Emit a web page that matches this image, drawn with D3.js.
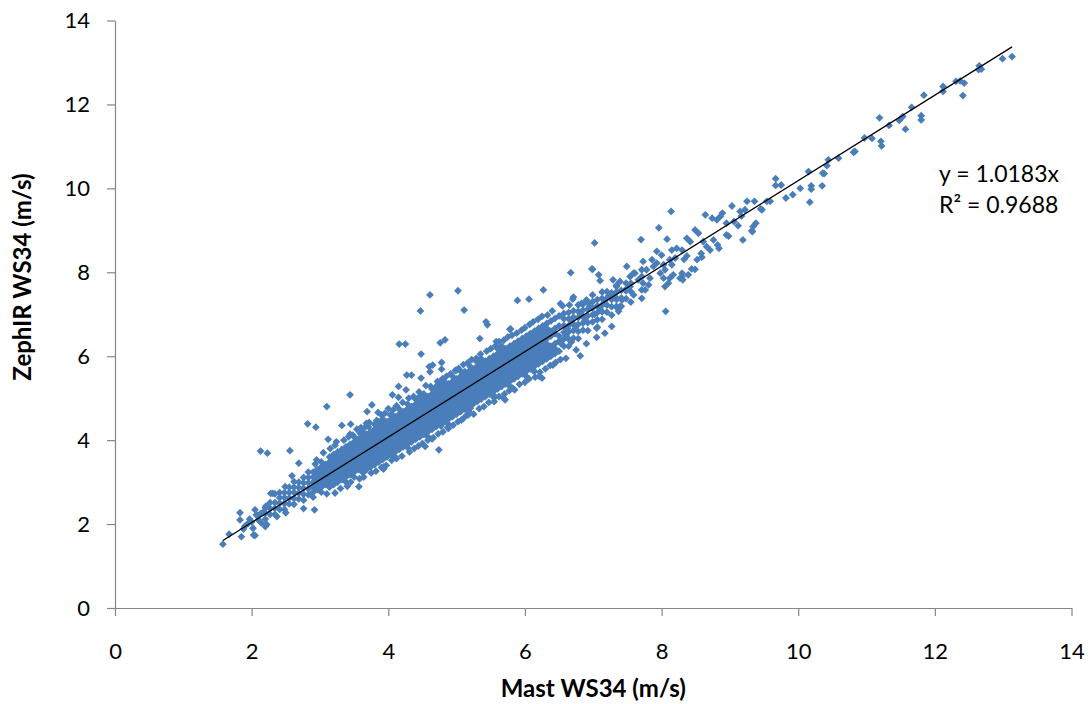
<!DOCTYPE html>
<html>
<head>
<meta charset="utf-8">
<script src="https://cdn.jsdelivr.net/npm/d3@7"></script>
<style>
  body { margin: 0; background: #fff; }
  text { font-family: Lato, "Open Sans", "DejaVu Sans", sans-serif; }
</style>
</head>
<body>
<svg id="chart" width="1088" height="704"></svg>
<script>
// Axis ticks and labels
const xTicks = [0, 2, 4, 6, 8, 10, 12, 14];
const yTicks = [0, 2, 4, 6, 8, 10, 12, 14];
const xTitle = "Mast WS34 (m/s)";
const yTitle = "ZephIR WS34 (m/s)";

// Linear fit through the origin
const slope = 1.0183;
const rSquared = 0.9688;

// Light-wind samples [mast, zephir]
const lowWindPoints = [
  [1.58,1.52],[1.67,1.76],[1.83,2.27],[1.83,2.10],[1.85,1.70],[1.88,1.88],[1.90,1.95],[1.95,2.02],
  [1.97,2.12],[2.00,2.05],[2.02,1.90],[2.03,1.74],[2.05,1.73],[2.05,2.34],[2.07,2.22],[2.08,2.20],
  [2.10,2.10],[2.13,2.25],[2.14,2.03],[2.18,2.30],[2.20,1.94],[2.21,2.43],[2.22,1.99],[2.13,3.74],
  [2.23,3.69],[2.28,2.73],[2.31,2.73],[2.34,2.72],[2.37,2.18],[2.49,2.89],[2.50,2.27],[2.56,3.75],
  [2.59,3.15],[2.69,3.45],[2.76,2.37],[2.82,4.39],[2.92,2.34],[2.93,3.43],[2.94,4.31],[2.95,3.53]
];

// Bulk of the record: each mast reading with the ZephIR readings logged alongside it
const coreColumns = [
  [2.20,[2.12,2.26,2.39]],
  [2.27,[2.23,2.37,2.51]],
  [2.34,[2.23,2.38,2.51]],
  [2.41,[2.35,2.50,2.63,2.75]],
  [2.48,[2.35,2.49,2.63,2.75]],
  [2.55,[2.48,2.62,2.75,2.88]],
  [2.62,[2.47,2.61,2.75,2.88,3.01]],
  [2.69,[2.60,2.74,2.87,3.00]],
  [2.76,[2.57,2.71,2.85,2.98,3.11]],
  [2.83,[2.70,2.84,2.98,3.11,3.24]],
  [2.90,[2.64,2.76,2.88,3.00,3.12,3.24]],
  [2.96,[2.82,2.94,3.06,3.18,3.30]],
  [3.02,[2.76,2.88,3.00,3.12,3.24,3.36,3.48]],
  [3.08,[2.94,3.06,3.18,3.30,3.42]],
  [3.14,[2.88,3.00,3.12,3.24,3.36,3.48,3.60]],
  [3.20,[2.94,3.06,3.18,3.30,3.42,3.54,3.66]],
  [3.26,[3.00,3.12,3.24,3.36,3.48,3.60,3.72]],
  [3.32,[3.06,3.18,3.30,3.42,3.54,3.66,3.78]],
  [3.38,[3.00,3.12,3.24,3.36,3.48,3.60,3.72,3.84]],
  [3.44,[3.18,3.30,3.42,3.54,3.66,3.78,3.90]],
  [3.50,[3.12,3.24,3.36,3.48,3.60,3.72,3.84,3.96,4.08]],
  [3.56,[3.30,3.42,3.54,3.66,3.78,3.90,4.02]],
  [3.62,[3.24,3.36,3.48,3.60,3.72,3.84,3.96,4.08,4.20]],
  [3.68,[3.30,3.42,3.54,3.66,3.78,3.90,4.02,4.14]],
  [3.74,[3.36,3.48,3.60,3.72,3.84,3.96,4.08,4.20]],
  [3.80,[3.42,3.54,3.66,3.78,3.90,4.02,4.14,4.26,4.38]],
  [3.86,[3.48,3.60,3.72,3.84,3.96,4.08,4.20,4.32,4.44]],
  [3.92,[3.54,3.66,3.78,3.90,4.02,4.14,4.26,4.38,4.50]],
  [3.98,[3.60,3.72,3.84,3.96,4.08,4.20,4.32,4.44]],
  [4.04,[3.66,3.78,3.90,4.02,4.14,4.26,4.38,4.50,4.62]],
  [4.10,[3.60,3.72,3.84,3.96,4.08,4.20,4.32,4.44,4.56]],
  [4.16,[3.78,3.90,4.02,4.14,4.26,4.38,4.50,4.62,4.74]],
  [4.22,[3.84,3.96,4.08,4.20,4.32,4.44,4.56,4.68]],
  [4.28,[3.90,4.02,4.14,4.26,4.38,4.50,4.62,4.74,4.86]],
  [4.34,[3.96,4.08,4.20,4.32,4.44,4.56,4.68,4.80]],
  [4.40,[4.02,4.14,4.26,4.38,4.50,4.62,4.74,4.86,4.98]],
  [4.46,[4.08,4.20,4.32,4.44,4.56,4.68,4.80,4.92,5.04]],
  [4.52,[4.14,4.26,4.38,4.50,4.62,4.74,4.86,4.98,5.10]],
  [4.58,[4.08,4.20,4.32,4.44,4.56,4.68,4.80,4.92,5.04]],
  [4.64,[4.26,4.38,4.50,4.62,4.74,4.86,4.98,5.10,5.22]],
  [4.70,[4.32,4.44,4.56,4.68,4.80,4.92,5.04,5.16,5.28]],
  [4.76,[4.38,4.50,4.62,4.74,4.86,4.98,5.10,5.22,5.34]],
  [4.82,[4.44,4.56,4.68,4.80,4.92,5.04,5.16,5.28,5.40]],
  [4.88,[4.38,4.50,4.62,4.74,4.86,4.98,5.10,5.22,5.34]],
  [4.94,[4.56,4.68,4.80,4.92,5.04,5.16,5.28,5.40,5.52]],
  [5.00,[4.62,4.74,4.86,4.98,5.10,5.22,5.34,5.46]],
  [5.06,[4.68,4.80,4.92,5.04,5.16,5.28,5.40,5.52,5.64]],
  [5.12,[4.74,4.86,4.98,5.10,5.22,5.34,5.46,5.58]],
  [5.18,[4.68,4.80,4.92,5.04,5.16,5.28,5.40,5.52,5.64]],
  [5.24,[4.86,4.98,5.10,5.22,5.34,5.46,5.58,5.70]],
  [5.30,[4.92,5.04,5.16,5.28,5.40,5.52,5.64,5.76,5.88]],
  [5.36,[4.98,5.10,5.22,5.34,5.46,5.58,5.70,5.82,5.94]],
  [5.42,[5.04,5.16,5.28,5.40,5.52,5.64,5.76,5.88]],
  [5.48,[5.10,5.22,5.34,5.46,5.58,5.70,5.82,5.94]],
  [5.54,[5.04,5.16,5.28,5.40,5.52,5.64,5.76,5.88,6.00]],
  [5.60,[5.22,5.34,5.46,5.58,5.70,5.82,5.94,6.06,6.18]],
  [5.66,[5.28,5.40,5.52,5.64,5.76,5.88,6.00,6.12,6.24]],
  [5.72,[5.34,5.46,5.58,5.70,5.82,5.94,6.06,6.18]],
  [5.78,[5.28,5.40,5.52,5.64,5.76,5.88,6.00,6.12,6.24]],
  [5.84,[5.46,5.58,5.70,5.82,5.94,6.06,6.18,6.30]],
  [5.90,[5.52,5.64,5.76,5.88,6.00,6.12,6.24,6.36]],
  [5.96,[5.58,5.70,5.82,5.94,6.06,6.18,6.30,6.42]],
  [6.02,[5.52,5.64,5.76,5.88,6.00,6.12,6.24,6.36,6.48]],
  [6.08,[5.70,5.82,5.94,6.06,6.18,6.30,6.42,6.54]],
  [6.14,[5.64,5.76,5.88,6.00,6.12,6.24,6.36,6.48,6.60]],
  [6.20,[5.82,5.94,6.06,6.18,6.30,6.42,6.54,6.66]],
  [6.26,[5.88,6.00,6.12,6.24,6.36,6.48,6.60,6.72]],
  [6.32,[5.94,6.06,6.18,6.30,6.42,6.54,6.66,6.78]],
  [6.38,[6.00,6.12,6.24,6.48,6.60,6.84]],
  [6.44,[6.06,6.18,6.30,6.54,6.66,6.90]],
  [6.50,[6.12,6.36,6.48,6.72,6.96]],
  [6.57,[6.24,6.41,6.57,6.73,6.89,7.02]],
  [6.64,[6.24,6.41,6.58,6.73,6.89,7.04]],
  [6.71,[6.43,6.61,6.77,6.93,7.08]],
  [6.78,[6.42,6.59,6.76,6.92,7.07,7.22]],
  [6.85,[6.62,6.79,6.94,7.10,7.24]],
  [6.92,[6.61,6.80,6.96,7.12,7.27]],
  [6.99,[6.82,6.99,7.15,7.30,7.46]],
  [7.06,[6.69,6.87,7.04,7.20,7.35]],
  [7.13,[6.88,7.06,7.22,7.38,7.53]],
  [7.20,[7.05,7.22,7.38,7.54]],
  [7.27,[6.98,7.18,7.35,7.50]],
  [7.34,[7.17,7.35,7.53,7.69]],
  [7.41,[7.19,7.39,7.57]],
  [7.48,[7.37,7.56,7.74]],
  [7.55,[7.29,7.54,7.74]]
];

// Readings scattered around the main band [mast, zephir]
const scatterPoints = [
  [3.10,4.80],[3.12,4.02],[3.24,3.96],[3.32,4.35],[3.39,3.17],[3.44,5.08],[3.44,4.14],[3.45,4.38],
  [3.54,4.26],[3.57,2.89],[3.59,4.16],[3.65,3.25],[3.68,3.33],[3.68,4.40],[3.69,4.68],[3.71,4.32],
  [3.76,4.84],[3.85,4.66],[3.93,3.31],[3.93,3.36],[3.95,4.64],[4.03,4.60],[4.06,5.08],[4.15,5.02],
  [4.15,5.28],[4.16,6.29],[4.25,6.29],[4.26,5.20],[4.27,5.55],[4.29,3.81],[4.34,5.55],[4.47,7.08],
  [4.48,6.05],[4.48,5.48],[4.54,3.85],[4.60,5.75],[4.61,7.46],[4.61,5.63],[4.64,4.03],[4.65,5.79],
  [4.74,3.77],[4.76,6.32],[4.77,4.34],[4.78,5.85],[4.78,5.69],[4.83,6.39],[4.88,4.28],[5.00,5.67],
  [5.02,7.56],[5.07,4.48],[5.11,7.10],[5.12,5.63],[5.15,4.60],[5.20,4.76],[5.20,5.75],[5.27,5.91],
  [5.34,6.42],[5.43,6.82],[5.45,6.75],[5.55,5.01],[5.56,5.04],[5.58,6.35],[5.69,5.00],[5.71,4.96],
  [5.78,6.64],[5.79,6.65],[5.82,5.24],[5.89,7.33],[6.06,7.36],[6.12,5.66],[6.21,5.52],[6.25,5.48],
  [6.27,5.93],[6.27,7.58],[6.41,5.79],[6.52,7.25],[6.65,7.22],[6.67,7.99],[6.71,7.41],[6.81,6.01],
  [6.83,7.26],[6.90,7.34],[6.98,8.08],[6.99,8.07],[7.02,8.70],[7.05,6.67],[7.08,7.94],[7.10,7.80],
  [7.17,6.55],[7.27,6.71],[7.34,7.19],[7.37,7.07],[7.49,8.14],[7.59,7.98],
  [6.53,6.30],[6.60,6.50],[6.62,6.66],[6.68,6.85],[6.68,6.34],[6.74,6.70],[6.82,7.00],[6.88,6.86],
  [6.95,7.18],[7.02,7.00],[7.10,7.12],[7.16,7.28],[7.23,7.45],
  // upper fringe of the band
  [3.05,3.70],[3.22,3.88],[3.35,4.00],[3.48,4.12],[3.60,4.30],[3.72,4.42],[3.90,4.60],[4.00,4.75],
  [4.12,4.82],[4.30,5.00],[4.45,5.15],[4.55,5.30],[4.72,5.40],[4.85,5.52],[4.98,5.66],[5.10,5.80],
  [5.22,5.92],[5.35,6.05],[5.50,6.18],[5.62,6.35],[5.75,6.46],[5.88,6.55],[6.00,6.68],[6.12,6.82],
  [6.25,6.95],[6.40,7.08],[6.55,7.20],[6.70,7.36],
  [3.15,3.80],[3.42,4.08],[3.66,4.31],[3.83,4.47],[4.07,4.72],[4.21,4.90],[4.37,5.04],[4.62,5.28],
  [4.79,5.46],[4.91,5.58],[5.03,5.71],[5.16,5.84],[5.29,5.95],[5.44,6.12],[5.57,6.25],[5.69,6.38],
  [5.81,6.50],[5.95,6.62],[6.07,6.76],[6.19,6.88],[6.33,6.98],
  // lower fringe of the band
  [3.10,2.72],[3.30,2.85],[3.45,3.00],[3.58,3.08],[3.75,3.22],[3.90,3.35],[4.05,3.52],[4.20,3.62],
  [4.38,3.80],[4.50,3.92],[4.66,4.06],[4.80,4.20],[4.95,4.36],[5.10,4.52],[5.25,4.62],[5.40,4.80],
  [5.55,4.92],[5.70,5.10],[5.85,5.20],[6.00,5.38],[6.15,5.50],[6.30,5.70],[6.45,5.85],[6.60,5.95],
  [6.75,6.15],[6.90,6.30],[7.05,6.45],
  [3.22,2.74],[3.40,2.90],[3.64,3.12],[3.82,3.26],[3.97,3.40],[4.12,3.56],[4.31,3.72],[4.44,3.86],
  [4.58,4.00],[4.73,4.15],[4.87,4.30],[5.02,4.44],[5.17,4.60],[5.33,4.75],[5.47,4.90],[5.62,5.04],
  [5.77,5.18],[5.92,5.33],[6.06,5.46],[6.22,5.62],[6.37,5.78],[6.52,5.92]
];

// Moderate winds, 7 to 9.5 m/s [mast, zephir]
const moderateWindPoints = [
  [7.27,7.50],[7.29,7.82],[7.32,7.42],[7.34,7.66],[7.39,7.78],[7.39,7.18],[7.42,7.34],[7.47,7.58],
  [7.54,7.66],[7.54,7.90],[7.59,7.46],[7.61,7.98],[7.66,7.82],[7.70,8.78],[7.71,7.90],[7.71,7.58],
  [7.71,7.38],[7.71,8.06],[7.73,8.26],[7.73,7.74],[7.76,7.58],[7.78,8.06],[7.81,7.70],[7.83,7.86],
  [7.86,8.30],[7.88,8.14],[7.93,8.22],[7.93,8.50],[7.96,9.06],[7.98,7.98],[8.00,8.41],[8.03,8.18],
  [8.03,7.86],[8.05,8.06],[8.05,7.66],[8.06,7.07],[8.08,8.79],[8.10,7.74],[8.12,8.30],[8.12,7.86],
  [8.14,9.45],[8.15,8.53],[8.15,8.18],[8.17,7.94],[8.20,8.34],[8.22,8.57],[8.27,7.86],[8.30,8.53],
  [8.30,7.98],[8.30,7.90],[8.31,7.82],[8.33,8.31],[8.37,8.39],[8.37,8.81],[8.39,7.94],[8.42,8.73],
  [8.44,8.08],[8.49,8.07],[8.49,9.01],[8.52,8.30],[8.54,8.93],[8.58,8.45],[8.59,8.36],[8.61,8.73],
  [8.64,9.37],[8.66,8.61],[8.71,8.53],[8.74,9.29],[8.76,8.77],[8.81,9.25],[8.82,8.65],[8.84,8.57],
  [8.86,9.33],[8.89,9.41],[8.95,9.17],[8.95,8.89],[8.98,8.86],[9.03,9.58],[9.06,9.21],[9.12,9.11],
  [9.15,9.45],[9.17,9.34],[9.19,8.77],[9.22,9.49],[9.25,9.69],[9.32,8.99],[9.33,8.97],[9.34,9.09],
  [9.36,9.69],[9.38,9.17],[9.45,9.51]
];

// Strong winds above 9.5 m/s [mast, zephir]
const highWindPoints = [
  [9.47,9.49],[9.54,9.69],[9.59,9.69],[9.67,10.23],[9.67,10.07],[9.75,10.08],[9.82,9.77],[9.92,9.85],
  [10.03,10.00],[10.15,10.40],[10.17,9.67],[10.19,10.06],[10.19,9.98],[10.35,10.06],[10.36,10.36],
  [10.38,10.35],[10.42,10.54],[10.44,10.68],[10.59,10.72],[10.81,10.86],[10.83,10.88],[10.97,11.20],
  [11.08,11.19],[11.19,11.68],[11.21,11.12],[11.22,11.01],[11.33,11.50],[11.48,11.62],[11.53,11.71],
  [11.57,11.41],[11.66,11.93],[11.80,11.73],[11.80,11.63],[11.84,12.22],[12.12,12.43],[12.12,12.31],
  [12.31,12.55],[12.37,12.56],[12.41,12.21],[12.43,12.51],[12.64,12.83],[12.65,12.92],[12.68,12.84],
  [12.99,13.09],[13.13,13.14]
];

const points = [
  ...lowWindPoints,
  ...coreColumns.flatMap(([m, zs]) => zs.map(z => [m, z])),
  ...scatterPoints,
  ...moderateWindPoints,
  ...highWindPoints
];

const svg = d3.select("#chart");
svg.append("rect").attr("width", 1088).attr("height", 704).attr("fill", "#fff");

const x = d3.scaleLinear().domain([0, 14]).range([115, 1071.5]);
const y = d3.scaleLinear().domain([0, 14]).range([608, 20.5]);

const axisColor = "#868686";

// X axis
const gx = svg.append("g")
  .attr("transform", `translate(0,${y(0)})`)
  .call(d3.axisBottom(x).tickValues(xTicks).tickFormat(d3.format("d"))
    .tickSize(8).tickSizeOuter(0).tickPadding(27));
// Y axis
const gy = svg.append("g")
  .attr("transform", `translate(${x(0)},0)`)
  .call(d3.axisLeft(y).tickValues(yTicks).tickFormat(d3.format("d"))
    .tickSize(8).tickSizeOuter(0).tickPadding(17));

[gx, gy].forEach(g => {
  g.select(".domain").attr("stroke", axisColor).attr("stroke-width", 1.2);
  g.selectAll(".tick line").attr("stroke", axisColor).attr("stroke-width", 1.2);
  g.selectAll(".tick text").attr("fill", "#000").style("font-size", "22px")
    .style("font-family", "Lato, 'Open Sans', sans-serif");
});

// Markers
const half = 3.9;
const diamond = `M0,${-half}L${half},0L0,${half}L${-half},0Z`;
svg.append("g")
  .selectAll("path")
  .data(points)
  .join("path")
  .attr("d", diamond)
  .attr("transform", d => `translate(${x(d[0])},${y(d[1])})`)
  .attr("fill", "#4a7ebb");

// Trend line across the range of mast readings
const xExtent = d3.extent(points, d => d[0]);
const line = d3.line().x(d => x(d)).y(d => y(slope * d));
svg.append("path")
  .datum(xExtent)
  .attr("d", line)
  .attr("fill", "none")
  .attr("stroke", "#000")
  .attr("stroke-width", 1.3);

// Fit equation
const eq = svg.append("g").style("font-size", "23px").attr("fill", "#000");
eq.append("text").attr("x", 939).attr("y", 182).text(`y = ${slope.toFixed(4)}x`);
eq.append("text").attr("x", 939).attr("y", 213).text(`R² = ${rSquared.toFixed(4)}`);

// Axis titles
svg.append("text")
  .attr("x", (x(0) + x(14)) / 2)
  .attr("y", 697)
  .attr("text-anchor", "middle")
  .style("font-size", "24px")
  .style("font-weight", "bold")
  .text(xTitle);

svg.append("text")
  .attr("transform", `translate(31,277) rotate(-90)`)
  .attr("text-anchor", "middle")
  .style("font-size", "24px")
  .style("font-weight", "bold")
  .text(yTitle);
</script>
</body>
</html>
